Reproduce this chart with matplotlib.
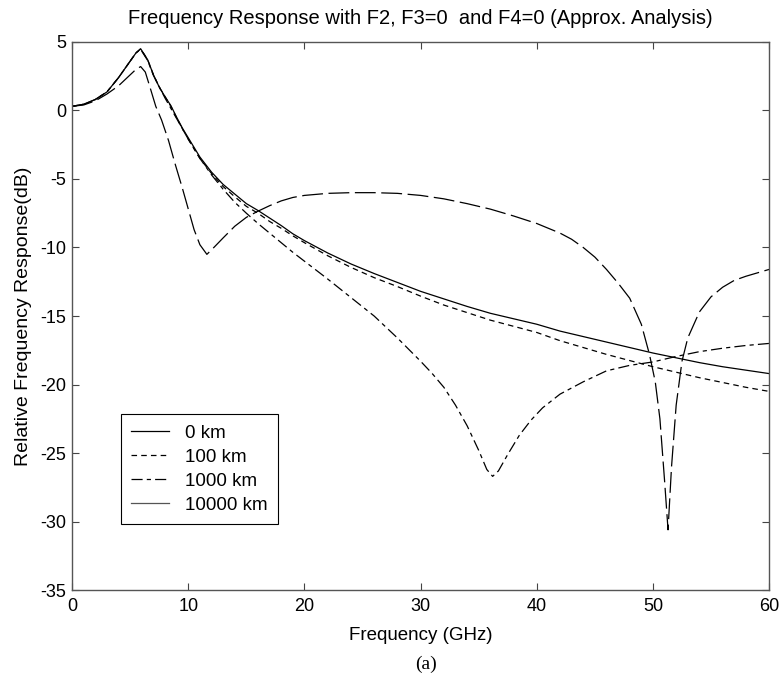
import matplotlib
matplotlib.use('Agg')
import matplotlib.pyplot as plt
from matplotlib.lines import Line2D

plt.rcParams['font.family'] = ['Liberation Sans', 'DejaVu Sans']
plt.rcParams['lines.scale_dashes'] = False
plt.rcParams['axes.unicode_minus'] = False

# 0 km
f_0 = [0, 1, 2, 3, 4, 4.5, 5, 5.5, 5.9, 6.5, 7, 7.5, 8, 8.5, 9, 9.5, 10, 11, 12, 13, 14, 15, 16,
       17, 18, 19, 20, 22, 24, 26, 28, 30, 32, 34, 36, 38, 40, 42, 44, 46, 48, 50, 52, 54, 56, 58, 60]
db_0 = [0.3, 0.45, 0.8, 1.35, 2.4, 3.0, 3.6, 4.2, 4.5, 3.7, 2.6, 1.7, 1.0, 0.35, -0.5, -1.3, -2.0,
        -3.4, -4.5, -5.4, -6.1, -6.8, -7.3, -7.85, -8.4, -9.0, -9.5, -10.4, -11.2, -11.9, -12.55,
        -13.2, -13.75, -14.3, -14.8, -15.2, -15.6, -16.1, -16.5, -16.9, -17.3, -17.7, -18.05,
        -18.4, -18.7, -18.95, -19.2]

# 100 km
f_100 = [0, 1, 2, 3, 4, 4.5, 5, 5.5, 5.9, 6.5, 7, 7.5, 8, 8.5, 9, 9.5, 10, 11, 12, 13, 14, 15, 16,
         17, 18, 19, 20, 22, 24, 26, 28, 30, 32, 34, 36, 38, 40, 42, 44, 46, 48, 50, 52, 54, 56, 58, 60]
db_100 = [0.3, 0.45, 0.8, 1.35, 2.4, 3.0, 3.6, 4.2, 4.5, 3.7, 2.6, 1.7, 1.0, 0.3, -0.55, -1.35, -2.1,
          -3.5, -4.6, -5.55, -6.3, -7.0, -7.5, -8.1, -8.6, -9.15, -9.65, -10.6, -11.45, -12.2,
          -12.85, -13.55, -14.2, -14.75, -15.3, -15.75, -16.2, -16.8, -17.3, -17.8, -18.25,
          -18.7, -19.1, -19.5, -19.85, -20.2, -20.5]

# 1000 km
f_1000 = [0, 1, 2, 3, 4, 4.5, 5, 5.5, 5.9, 6.5, 7, 8, 9, 10, 11, 12, 13, 14, 15, 16, 17, 18, 19,
          20, 22, 24, 26, 28, 30, 31, 32, 33, 34, 35, 35.7, 36.2, 36.7, 37.5, 38.5, 39.5, 40.5,
          42, 44, 46, 48, 50, 52, 54, 56, 58, 60]
db_1000 = [0.3, 0.45, 0.8, 1.35, 2.4, 3.0, 3.6, 4.2, 4.45, 3.65, 2.55, 0.9, -0.6, -2.1, -3.5,
           -4.7, -5.75, -6.7, -7.5, -8.25, -8.95, -9.65, -10.35, -11.0, -12.3, -13.65, -15.0,
           -16.6, -18.3, -19.2, -20.2, -21.5, -23.0, -24.8, -26.2, -26.7, -26.3, -25.1, -23.7,
           -22.6, -21.7, -20.7, -19.8, -19.0, -18.6, -18.35, -17.95, -17.6, -17.35, -17.15, -17.0]

# 10000 km
f_10000 = [0, 1, 2, 3, 4, 5, 5.5, 5.9, 6.3, 6.7, 7.2, 7.7, 8.3, 8.9, 9.5, 10, 10.5, 11, 11.6,
           12.2, 13, 14, 15, 16, 17, 18, 19, 20, 22, 24, 26, 28, 30, 32, 34, 36, 38, 40, 42, 43,
           44, 45, 46, 47, 48, 49, 49.7, 50.2, 50.6, 51, 51.3, 51.6, 52, 52.5, 53, 54, 55, 56,
           57, 58, 59, 60]
db_10000 = [0.3, 0.4, 0.7, 1.2, 1.8, 2.6, 3.0, 3.2, 2.8, 1.7, 0.3, -0.7, -2.2, -4.0, -5.7, -7.2,
            -8.7, -9.8, -10.5, -10.0, -9.3, -8.45, -7.8, -7.35, -6.95, -6.6, -6.35, -6.2, -6.05,
            -6.0, -6.0, -6.05, -6.2, -6.45, -6.8, -7.2, -7.7, -8.25, -8.95, -9.4, -10.0, -10.7,
            -11.6, -12.6, -13.7, -15.6, -17.8, -19.8, -22.5, -27.0, -30.6, -26.0, -21.5, -18.3,
            -16.6, -14.7, -13.6, -12.9, -12.4, -12.1, -11.85, -11.6]

labels = ['0 km', '100 km', '1000 km', '10000 km']

fig = plt.figure(figsize=(7.84, 6.87), dpi=100)
ax = fig.add_axes([0.092, 0.141, 0.889, 0.798])

lw = 0.9
ax.plot(f_0, db_0, color='black', lw=lw, linestyle='-')
ax.plot(f_100, db_100, color='black', lw=lw, linestyle=(0, (4, 3)))
ax.plot(f_1000, db_1000, color='black', lw=lw, linestyle=(0, (8, 3, 3, 3)))
ax.plot(f_10000, db_10000, color='black', lw=lw, linestyle=(0, (15, 4)))

ax.set_xlim(0, 60)
ax.set_ylim(-35, 5)
ax.set_xticks([0, 10, 20, 30, 40, 50, 60])
ax.set_yticks([5, 0, -5, -10, -15, -20, -25, -30, -35])
ax.tick_params(axis='both', direction='in', top=True, right=True, length=5,
               labelsize=13, color='#444444')
ax.tick_params(axis='y', pad=4)
ax.tick_params(axis='x', pad=6)
for s in ax.spines.values():
    s.set_color('#555555')
    s.set_linewidth(1.0)

ax.set_title('Frequency Response with F2, F3=0  and F4=0 (Approx. Analysis)', fontsize=14.5, pad=13)
ax.set_xlabel('Frequency (GHz)', fontsize=13.5, labelpad=8)
ax.set_ylabel('Relative Frequency Response(dB)', fontsize=14, labelpad=6)

handles = [Line2D([], [], color='black', lw=0.9, linestyle='-'),
           Line2D([], [], color='black', lw=0.9, linestyle=(0, (4, 3))),
           Line2D([], [], color='black', lw=0.9, linestyle=(0, (8, 3, 3, 3))),
           Line2D([], [], color='#555555', lw=0.9, linestyle='-')]
leg = ax.legend(handles, labels, loc='lower left', bbox_to_anchor=(0.070, 0.120),
                borderaxespad=0, fontsize=13.5, handlelength=2.0, handletextpad=0.85,
                labelspacing=0.37, fancybox=False, edgecolor='black', framealpha=1,
                borderpad=0.55)
leg.get_frame().set_linewidth(0.8)

fig.text(0.544, 0.02, '(a)', fontsize=14, family=['Liberation Serif', 'DejaVu Serif'],
         ha='center', va='bottom')

fig.savefig('out.png', dpi=100)
